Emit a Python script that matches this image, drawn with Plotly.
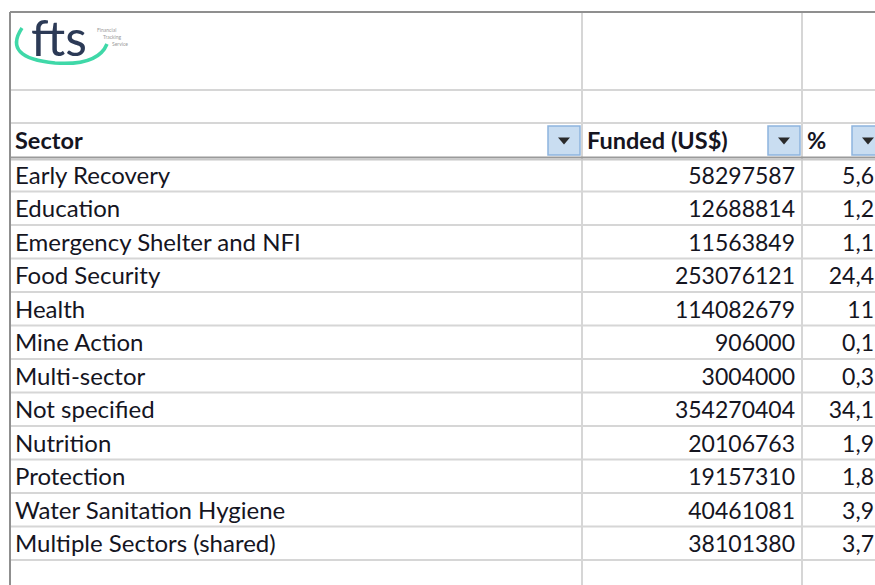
import plotly.graph_objects as go

# table content
sectors = [
    "Early Recovery",
    "Education",
    "Emergency Shelter and NFI",
    "Food Security",
    "Health",
    "Mine Action",
    "Multi-sector",
    "Not specified",
    "Nutrition",
    "Protection",
    "Water Sanitation Hygiene",
    "Multiple Sectors (shared)",
]
funded = [
    58297587, 12688814, 11563849, 253076121, 114082679, 906000,
    3004000, 354270404, 20106763, 19157310, 40461081, 38101380,
]
# the % column is cut off at the right edge of the screenshot
percent = ["5,6", "1,2", "1,1", "24,4", "11", "0,1", "0,3", "34,1", "1,9", "1,8", "3,9", "3,7"]
headers = ["Sector", "Funded (US$)", "%"]

# sheet geometry (pixels)
W, H = 875, 585
LEFT, TOP = 10, 12
COL_EDGES = [LEFT, 582, 802, 886]
LOGO_BOTTOM, BLANK_BOTTOM, HEADER_BOTTOM = 90, 123, 158
ROW_H = 33.5
TEXT_DY = 3  # glyphs sit a little low in the Excel cells

FONT = "Lato, 'Open Sans', sans-serif"
TEXT = "#15151f"
GRID = "#d6d6d6"
FRAME = "#8f8f8f"

n = len(sectors)
rows_y = [HEADER_BOTTOM + (i + 0.5) * ROW_H + TEXT_DY for i in range(n)]
header_y = (BLANK_BOTTOM + HEADER_BOTTOM) / 2

fig = go.Figure()

# body cells
fig.add_trace(go.Scatter(
    x=[COL_EDGES[0] + 5] * n, y=rows_y, text=sectors, mode="text",
    textposition="middle right", textfont=dict(family=FONT, size=24, color=TEXT),
    hoverinfo="skip", showlegend=False,
))
fig.add_trace(go.Scatter(
    x=[COL_EDGES[2] - 7] * n, y=rows_y, text=[str(v) for v in funded], mode="text",
    textposition="middle left", textfont=dict(family=FONT, size=23, color=TEXT),
    hoverinfo="skip", showlegend=False,
))
fig.add_trace(go.Scatter(
    x=[W - 1] * n, y=rows_y, text=percent, mode="text",
    textposition="middle left", textfont=dict(family=FONT, size=23, color=TEXT),
    hoverinfo="skip", showlegend=False,
))

# header cells
fig.add_trace(go.Scatter(
    x=[e + 5 for e in COL_EDGES[:3]], y=[header_y + TEXT_DY] * 3, text=headers, mode="text",
    textposition="middle right", textfont=dict(family=FONT, size=23.5, color=TEXT, weight="bold"),
    hoverinfo="skip", showlegend=False,
))

shapes = []

# horizontal grid lines
h_lines = [LOGO_BOTTOM, BLANK_BOTTOM] + [HEADER_BOTTOM + k * ROW_H for k in range(1, n + 2)]
for y in h_lines:
    shapes.append(dict(type="line", x0=LEFT, x1=W, y0=y, y1=y, line=dict(color=GRID, width=2)))

# vertical grid lines
for x in COL_EDGES[1:]:
    shapes.append(dict(type="line", x0=x, x1=x, y0=TOP, y1=H, line=dict(color=GRID, width=2)))

# header underline (double)
shapes.append(dict(type="line", x0=LEFT, x1=W, y0=HEADER_BOTTOM - 0.5, y1=HEADER_BOTTOM - 0.5,
                   line=dict(color="#9a9a9a", width=2)))
shapes.append(dict(type="line", x0=LEFT, x1=W, y0=HEADER_BOTTOM + 1.8, y1=HEADER_BOTTOM + 1.8,
                   line=dict(color="#c8c8c8", width=1.5)))

# outer frame
shapes.append(dict(type="line", x0=LEFT, x1=W, y0=TOP, y1=TOP, line=dict(color=FRAME, width=2)))
shapes.append(dict(type="line", x0=LEFT, x1=LEFT, y0=TOP, y1=H, line=dict(color=FRAME, width=2)))

# filter buttons
for x in COL_EDGES[1:]:
    bx0, bx1 = x - 34, x - 2
    shapes.append(dict(type="rect", x0=bx0, x1=bx1, y0=BLANK_BOTTOM + 3, y1=HEADER_BOTTOM - 3,
                       fillcolor="#c9ddf1", line=dict(color="#8db4de", width=1.5)))
    cx, cy = (bx0 + bx1) / 2, header_y
    shapes.append(dict(type="path", path=f"M {cx - 6} {cy - 3} L {cx + 6} {cy - 3} L {cx} {cy + 4} Z",
                       fillcolor="#2a2a2a", line=dict(width=0)))

# logo swoosh
shapes.append(dict(type="path", path="M 22 28 Q 2 58 55 63 Q 98 66 107 44",
                   line=dict(color="#3fd8a8", width=3.5)))

fig.update_layout(shapes=shapes)

annotations = [
    dict(x=59, y=37, text="fts", showarrow=False, xanchor="center", yanchor="middle",
         font=dict(family=FONT, size=50, color="#2c3a56")),
    dict(x=95, y=30, text="Financial", showarrow=False, xanchor="left", yanchor="middle",
         font=dict(family=FONT, size=5, color="#9a9a9a")),
    dict(x=101, y=37, text="Tracking", showarrow=False, xanchor="left", yanchor="middle",
         font=dict(family=FONT, size=5, color="#9a9a9a")),
    dict(x=110, y=44, text="Service", showarrow=False, xanchor="left", yanchor="middle",
         font=dict(family=FONT, size=5, color="#9a9a9a")),
]

fig.update_layout(
    annotations=annotations,
    width=W, height=H,
    margin=dict(l=0, r=0, t=0, b=0),
    paper_bgcolor="white", plot_bgcolor="white",
    xaxis=dict(range=[0, W], visible=False, fixedrange=True),
    yaxis=dict(range=[H, 0], visible=False, fixedrange=True),
)

# drop the default page margin so the figure fills the window exactly
fig.write_html(
    "out.html",
    config={"displayModeBar": False},
    post_script="document.body.style.margin='0';document.body.style.overflow='hidden';",
)
